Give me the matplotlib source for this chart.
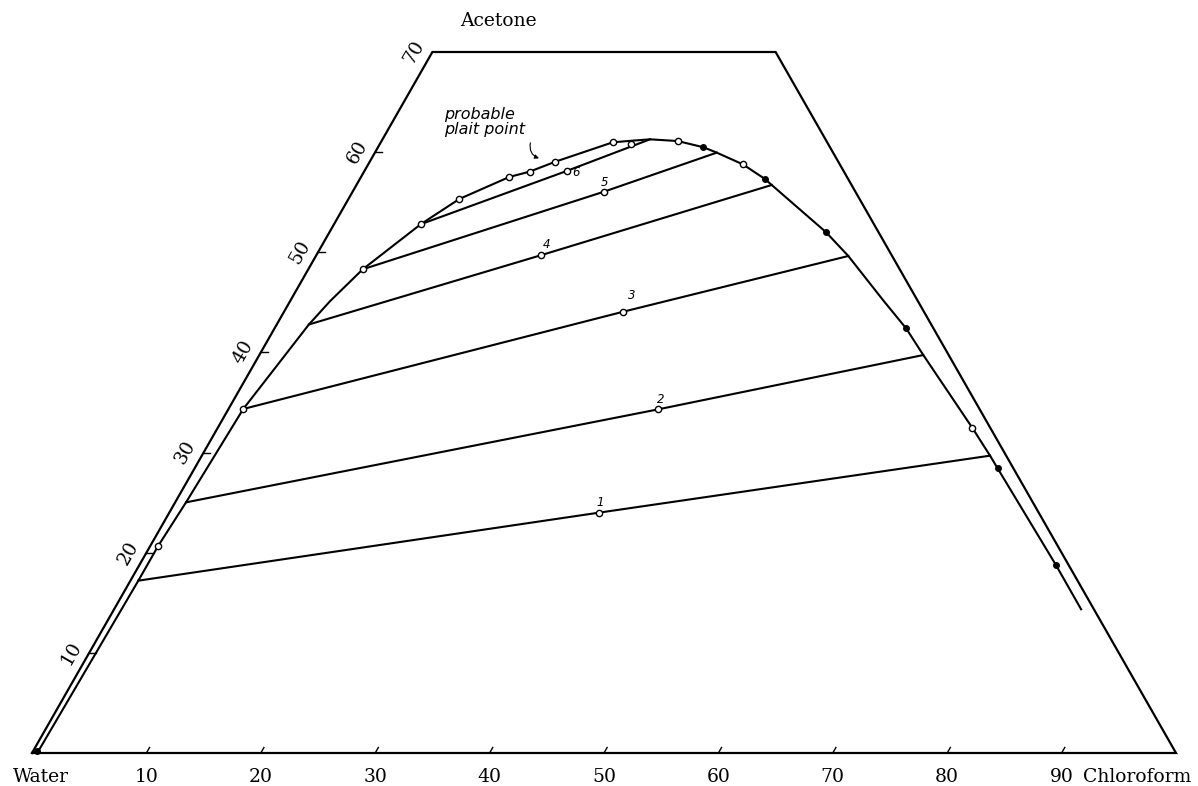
import numpy as np
import matplotlib
matplotlib.use("Agg")
import matplotlib.pyplot as plt

# ---------------- data (weight % chloroform, weight % acetone) ----------------
binodal_chloroform = [0.46, 0.69, 0.69, 0.95, 1.29, 2.81, 3.49, 4.76, 7.58, 9.69, 12.96,
                      14.47, 16.23, 20.27, 21.85, 23.38, 25.88, 28.44, 29.88, 32.73, 35.41,
                      36.30, 43.37, 46.54, 51.82, 55.20, 58.04, 65.95, 68.90, 70.19, 80.12, 84.53]
binodal_acetone = [0.0, 17.21, 20.70, 25.03, 34.35, 42.79, 45.11, 48.30, 52.80, 55.32, 57.52,
                   58.05, 59.05, 60.98, 61.14, 61.28, 61.11, 60.49, 59.95, 58.79, 57.32,
                   56.72, 52.03, 49.63, 45.19, 42.41, 39.74, 32.48, 29.69, 28.43, 18.77, 14.35]

open_chloroform = [0.69, 1.29, 4.76, 7.58, 9.69, 12.96, 14.47, 16.23, 20.27, 21.97, 25.88, 32.73, 65.95]
open_acetone = [20.70, 34.35, 48.30, 52.80, 55.32, 57.52, 58.05, 59.05, 60.98, 60.78, 61.11, 58.79, 32.48]

filled_chloroform = [0.30, 28.44, 35.41, 43.37, 55.20, 70.19, 80.12]
filled_acetone = [0.20, 60.49, 57.32, 52.03, 42.41, 28.43, 18.77]

tie1_chloroform = [0.69, 37.56, 68.90]
tie1_acetone = [17.21, 24.00, 29.69]
tie2_chloroform = [0.95, 37.59, 58.04]
tie2_acetone = [25.03, 34.32, 39.74]
tie3_chloroform = [1.29, 29.66, 46.54]
tie3_acetone = [34.35, 44.07, 49.63]
tie4_chloroform = [2.81, 19.62, 36.30]
tie4_acetone = [42.79, 49.70, 56.72]
tie5_chloroform = [4.76, 21.97, 29.88]
tie5_acetone = [48.30, 56.05, 59.95]
tie6_chloroform = [7.58, 17.68, 23.38]
tie6_acetone = [52.80, 58.12, 61.28]

tie_labels = ["1", "2", "3", "4", "5", "6"]
tie_point_chloroform = [37.56, 37.59, 29.66, 19.62, 21.97, 17.68]
tie_point_acetone = [24.00, 34.32, 44.07, 49.70, 56.05, 58.12]

bottom_ticks = [10, 20, 30, 40, 50, 60, 70, 80, 90]
left_ticks = [10, 20, 30, 40, 50, 60]
left_tick_labels = [10, 20, 30, 40, 50, 60, 70]
acetone_cut = 70


def tx(c, a):
    c = np.asarray(c, dtype=float)
    a = np.asarray(a, dtype=float)
    return c + a / 2.0, a


W, H = 1198, 786
fig = plt.figure(figsize=(W / 100, H / 100), dpi=100)
ax = fig.add_axes([32 / W, 33 / H, 1144 / W, 701 / H])
ax.set_xlim(0, 100)
ax.set_ylim(0, 70)
ax.axis("off")

serif = "DejaVu Serif"

# frame (truncated triangle)
fc = [0, 100, 100 - acetone_cut, 0, 0]
fa = [0, 0, acetone_cut, acetone_cut, 0]
X, Y = tx(fc, fa)
ax.plot(X, Y, color="black", lw=1.6, solid_joinstyle="miter", clip_on=False)

# ticks
for t in bottom_ticks:
    X, Y = tx([t, t], [0, 0.55])
    ax.plot(X, Y, color="black", lw=1.0, clip_on=False)
    ax.text(t, -2.9, str(t), ha="center", va="baseline", fontsize=13.5,
            family=serif)
for t in left_ticks:
    X, Y = tx([0, 0.6], [t, t])
    ax.plot(X, Y, color="black", lw=1.0, clip_on=False)
for t in left_tick_labels:
    X, Y = tx(0, t)
    ax.annotate(str(t), xy=(X, Y), xytext=(-18, 0), textcoords="offset pixels",
                ha="center", va="center", rotation=60, rotation_mode="anchor",
                fontsize=13.5, family=serif, annotation_clip=False)

ax.text(-1.66, -2.9, "Water", ha="left", va="baseline", fontsize=13.5, family=serif)
ax.text(91.87, -2.9, "Chloroform", ha="left", va="baseline", fontsize=13.5, family=serif)
ax.text(40.73, 73.1, "Acetone", ha="center", va="center", fontsize=13.5, family=serif)

# binodal curve
X, Y = tx(binodal_chloroform, binodal_acetone)
ax.plot(X, Y, color="black", lw=1.5, solid_joinstyle="round", clip_on=False)

# tie lines
for c, a in [(tie1_chloroform, tie1_acetone), (tie2_chloroform, tie2_acetone),
             (tie3_chloroform, tie3_acetone), (tie4_chloroform, tie4_acetone),
             (tie5_chloroform, tie5_acetone), (tie6_chloroform, tie6_acetone)]:
    X, Y = tx(c, a)
    ax.plot(X, Y, color="black", lw=1.5, solid_joinstyle="round")

# points
X, Y = tx(filled_chloroform, filled_acetone)
ax.plot(X, Y, "o", color="black", ms=4, clip_on=False)
X, Y = tx(open_chloroform, open_acetone)
ax.plot(X, Y, "o", mfc="white", mec="black", mew=1.0, ms=4.5, clip_on=False)
X, Y = tx(tie_point_chloroform, tie_point_acetone)
ax.plot(X, Y, "o", mfc="white", mec="black", mew=1.0, ms=4.5, clip_on=False)

label_offsets = [(1, 10), (2, 10), (8, 16), (6, 11), (1, 9), (9, -2)]
for lab, c, a, off in zip(tie_labels, tie_point_chloroform, tie_point_acetone, label_offsets):
    X, Y = tx(c, a)
    ax.annotate(lab, xy=(X, Y), xytext=off, textcoords="offset pixels",
                ha="center", va="center", fontsize=8.5, style="italic",
                family="DejaVu Sans")

# plait point note
ax.text(36.0, 63.0, "probable\nplait point", ha="left", va="center",
        fontsize=11.5, style="italic", family="DejaVu Sans", linespacing=1.05)
ax.annotate("", xy=(44.55, 59.29), xytext=(43.62, 61.2),
            arrowprops=dict(arrowstyle="-|>", lw=0.8, color="black",
                            mutation_scale=6,
                            connectionstyle="arc3,rad=0.5"))

fig.savefig("out.png", dpi=100)
